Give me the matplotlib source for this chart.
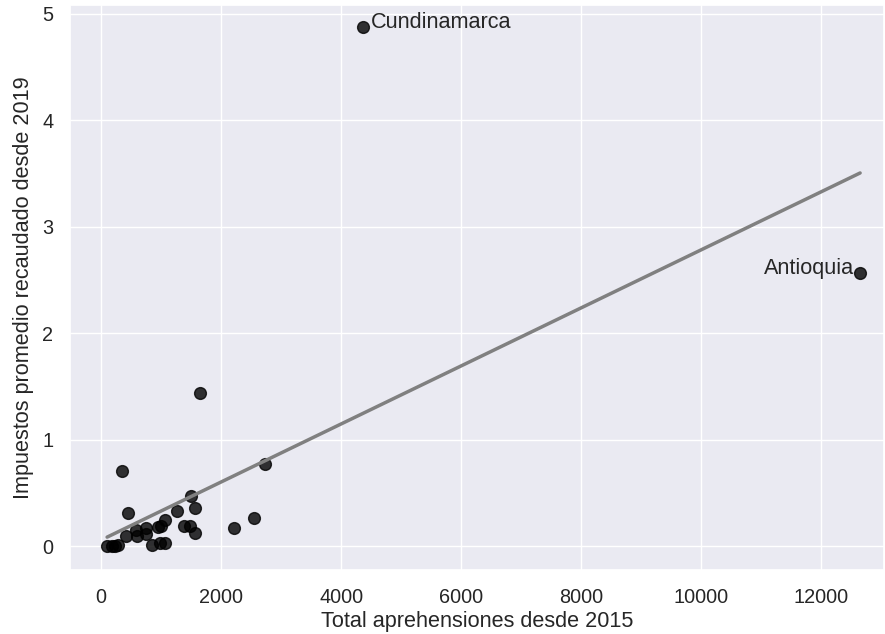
import matplotlib
matplotlib.use("Agg")
import matplotlib.pyplot as plt
import numpy as np
import seaborn as sns

# total seizures since 2015 (x) and average tax collected since 2019 (y)
aprehensiones = [100, 180, 230, 280, 355, 417, 445, 578, 594, 750, 750, 856,
                 945, 983, 1000, 1067, 1067, 1261, 1389, 1483, 1500, 1567, 1567,
                 1650, 2222, 2556, 2733, 4367, 12650]
impuestos = [0.0, 0.0, 0.0, 0.01, 0.70, 0.09, 0.31, 0.15, 0.09, 0.17, 0.11, 0.01,
             0.18, 0.03, 0.19, 0.03, 0.245, 0.33, 0.19, 0.19, 0.47, 0.355, 0.125,
             1.44, 0.165, 0.26, 0.77, 4.87, 2.56]
etiquetas = {"Cundinamarca": (4367, 4.87), "Antioquia": (12650, 2.56)}

sns.set_theme(style="darkgrid", font_scale=1.3)
plt.rcParams["font.family"] = ["Liberation Sans", "DejaVu Sans"]
fig, ax = plt.subplots(figsize=(8.85, 6.34), dpi=100)

sns.regplot(x=aprehensiones, y=impuestos, ci=None, ax=ax,
            scatter_kws={"color": "black", "alpha": 0.8, "s": 72},
            line_kws={"color": "grey", "lw": 2.5})

x0, y0 = etiquetas["Cundinamarca"]
ax.text(x0 + 130, y0 + 0.05, "Cundinamarca", ha="left", va="center")
x1, y1 = etiquetas["Antioquia"]
ax.text(x1 - 100, y1 + 0.05, "Antioquia", ha="right", va="center")

ax.set_xlim(-520, 13050)
ax.set_ylim(-0.225, 5.08)
ax.set_xlabel("Total aprehensiones desde 2015", labelpad=3)
ax.set_ylabel("Impuestos promedio recaudado desde 2019", labelpad=6)
ax.tick_params(axis="x", pad=7)
ax.tick_params(axis="y", pad=6)

fig.subplots_adjust(left=0.079, right=0.999, top=0.992, bottom=0.101)
fig.savefig("out.png")
